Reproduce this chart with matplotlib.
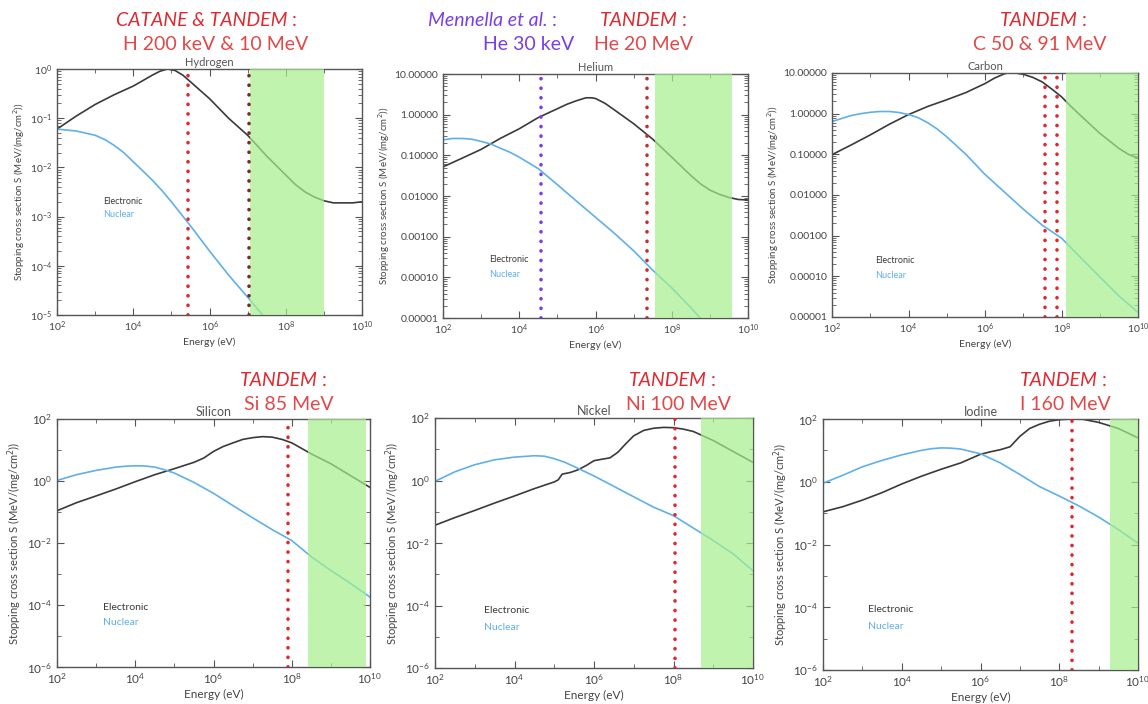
import numpy as np
import matplotlib
matplotlib.use("Agg")
import matplotlib.pyplot as plt
from matplotlib.ticker import LogLocator, FuncFormatter, NullFormatter, LogFormatterMathtext

plt.rcParams.update({
    'font.family': ['Lato', 'DejaVu Sans'],
    'mathtext.fontset': 'dejavusans',
})

# ---------------------------------------------------------------------------
# Data (log10 of energy in eV, stopping in MeV/(mg/cm2))
# ---------------------------------------------------------------------------
H_LOGE = [2.0, 2.5, 3.0, 3.5, 4.0, 4.25, 4.5, 4.7, 4.9, 5.1, 5.3, 5.5, 5.75, 6.0, 6.5, 7.0,
          7.5, 8.0, 8.25, 8.5, 8.75, 9.0, 9.25, 9.5, 9.75, 10.0]
H_ELEC = [0.06, 0.11, 0.19, 0.30, 0.45, 0.58, 0.75, 0.9, 1.0, 0.93, 0.75, 0.55, 0.37, 0.25, 0.10, 0.045,
          0.017, 0.007, 0.0045, 0.0032, 0.0025, 0.0021, 0.0019, 0.0019, 0.0019, 0.002]
H_NUC_LOGE = [2.0, 2.5, 3.0, 3.25, 3.5, 3.75, 4.0, 4.25, 4.5, 4.75, 5.0, 5.5, 6.0, 6.5, 7.0, 7.5, 8.0]
H_NUC = [0.06, 0.055, 0.045, 0.037, 0.028, 0.02, 0.013, 0.0085, 0.0055, 0.0034, 0.002, 0.00065,
         0.0002, 6.5e-5, 2.3e-5, 8e-6, 3e-6]

HE_LOGE = [2.0, 2.5, 3.0, 3.5, 4.0, 4.5, 5.0, 5.25, 5.5, 5.75, 5.9, 6.0, 6.25, 6.5, 7.0, 7.5,
           8.0, 8.5, 8.75, 9.0, 9.25, 9.5, 9.75, 10.0]
HE_ELEC = [0.052, 0.085, 0.14, 0.26, 0.45, 0.85, 1.4, 1.8, 2.2, 2.6, 2.6, 2.5, 1.9, 1.3, 0.6, 0.25,
           0.09, 0.032, 0.02, 0.014, 0.011, 0.0092, 0.0082, 0.008]
HE_NUC_LOGE = [2.0, 2.25, 2.5, 2.75, 3.0, 3.25, 3.5, 3.75, 4.0, 4.5, 5.0, 5.5, 6.0, 6.5, 7.0,
               7.5, 8.0, 8.5, 9.0]
HE_NUC = [0.24, 0.26, 0.26, 0.25, 0.22, 0.19, 0.15, 0.12, 0.09, 0.047, 0.019, 0.0075, 0.003, 0.0012,
          4.5e-4, 1.5e-4, 5.5e-5, 1.8e-5, 5.5e-6]

C_LOGE = [2.0, 2.5, 3.0, 3.5, 4.0, 4.5, 5.0, 5.5, 6.0, 6.25, 6.5, 6.6, 6.8, 7.0, 7.25, 7.5, 7.75,
          8.0, 8.25, 8.5, 9.0, 9.5, 9.75, 10.0]
C_ELEC = [0.098, 0.17, 0.30, 0.55, 0.95, 1.5, 2.2, 3.3, 5.5, 7.5, 9.5, 10.1, 10.0, 9.3, 7.8, 6.0, 4.0,
          2.6, 1.5, 0.9, 0.33, 0.14, 0.1, 0.08]
C_NUC_LOGE = [2.0, 2.5, 2.75, 3.0, 3.25, 3.5, 3.75, 4.0, 4.25, 4.5, 4.75, 5.0, 5.5, 6.0, 6.5, 7.0,
              7.5, 8.0, 8.5, 9.0, 9.5, 10.0]
C_NUC = [0.64, 0.9, 1.0, 1.08, 1.13, 1.13, 1.07, 0.95, 0.8, 0.6, 0.42, 0.27, 0.1, 0.032, 0.012, 0.0045,
         0.0018, 8.7e-4, 2.9e-4, 9.7e-5, 3.3e-5, 1.3e-5]

SI_LOGE = [2.0, 2.5, 3.0, 3.5, 4.0, 4.5, 5.0, 5.5, 5.75, 6.0, 6.25, 6.5, 6.75, 7.0, 7.25, 7.5,
           7.75, 8.0, 8.5, 9.0, 9.5, 10.0]
SI_ELEC = [0.11, 0.2, 0.33, 0.55, 0.95, 1.6, 2.5, 4.0, 5.5, 9.0, 13, 17, 22, 25, 27, 26,
           22, 17, 7.5, 3.6, 1.5, 0.62]
SI_NUC_LOGE = [2.0, 2.5, 3.0, 3.5, 3.75, 4.0, 4.25, 4.5, 4.75, 5.0, 5.5, 6.0, 6.5, 7.0, 7.5, 8.0,
               8.5, 9.0, 9.5, 10.0]
SI_NUC = [1.04, 1.6, 2.2, 2.8, 3.0, 3.1, 3.05, 2.8, 2.3, 1.8, 0.9, 0.4, 0.16, 0.065, 0.027, 0.012,
          0.0036, 0.0013, 5e-4, 1.8e-4]

NI_LOGE = [2.0, 2.5, 3.0, 3.5, 4.0, 4.5, 5.0, 5.1, 5.2, 5.4, 5.6, 5.8, 6.0, 6.2, 6.4, 6.6, 6.8,
           7.0, 7.25, 7.5, 7.75, 8.0, 8.25, 8.5, 9.0, 9.5, 10.0]
NI_ELEC = [0.037, 0.065, 0.11, 0.19, 0.32, 0.55, 0.9, 1.05, 1.6, 1.8, 2.2, 3.0, 4.3, 4.8, 5.3, 8, 15,
           27, 40, 47, 50, 49, 44, 37, 19, 8.5, 3.8]
NI_NUC_LOGE = [2.0, 2.5, 3.0, 3.5, 4.0, 4.5, 4.75, 5.0, 5.25, 5.5, 6.0, 6.5, 7.0, 7.5, 8.0, 8.5,
               9.0, 9.5, 10.0]
NI_NUC = [0.94, 1.9, 3.2, 4.6, 5.6, 6.2, 6.0, 5.0, 3.9, 2.8, 1.4, 0.65, 0.3, 0.14, 0.075, 0.03,
          0.012, 4.5e-3, 1.3e-3]

I_LOGE = [2.0, 2.5, 3.0, 3.5, 4.0, 4.5, 5.0, 5.5, 6.0, 6.25, 6.5, 6.75, 7.0, 7.25, 7.5, 7.75,
          8.0, 8.3, 8.6, 9.0, 9.5, 10.0]
I_ELEC = [0.11, 0.16, 0.26, 0.45, 0.85, 1.5, 2.5, 4.0, 7.5, 9.0, 10.5, 13, 28, 50, 68, 85,
          95, 100, 98, 78, 50, 25]
I_NUC_LOGE = [2.0, 2.5, 3.0, 3.5, 4.0, 4.5, 4.75, 5.0, 5.25, 5.5, 6.0, 6.5, 7.0, 7.5, 8.0, 8.5,
              9.0, 9.5, 10.0]
I_NUC = [0.9, 1.6, 3.0, 4.8, 7.2, 10, 11.3, 12, 11.8, 11, 7.8, 4.0, 1.7, 0.7, 0.35, 0.17,
         0.075, 0.03, 0.011]

# beam energies (eV) and irradiation (green) windows
H_BEAMS = [2.8e5, 1.1e7]
HE_BEAMS = [3.7e4, 2.2e7]
C_BEAMS = [3.7e7, 7.8e7]
SI_BEAMS = [8.0e7]
NI_BEAMS = [1.07e8]
I_BEAMS = [2.1e8]

H_BAND = [1.12e7, 1.0e9]
HE_BAND = [3.6e7, 3.7e9]
C_BAND = [1.3e8, 1.0e10]
SI_BAND = [2.6e8, 8.0e9]
NI_BAND = [4.8e8, 1.0e10]
I_BAND = [1.9e9, 1.0e10]

NAMES = ['Hydrogen', 'Helium', 'Carbon', 'Silicon', 'Nickel', 'Iodine']

BLACK = '#3a3a3a'
BLUE = '#5fb0ea'
RED = '#e0282e'
RED2 = '#e24848'
PURPLE = '#7a3ee6'
GREEN = '#a6f08c'
GRAY = '#555555'

W, H = 1148, 704


def fx(px):
    return px / W


def fy(py):
    return 1 - py / H


fig = plt.figure(figsize=(W / 100, H / 100), dpi=100)

# axes boxes in pixel coords: x0, x1, y_top, y_bottom
boxes = [
    (57, 362, 69, 315),
    (443, 748, 74, 318),
    (832, 1138, 73, 317),
    (57, 370, 419, 667),
    (435, 753, 418, 668),
    (823, 1138, 419, 670),
]

panels = [
    dict(loge=H_LOGE, elec=H_ELEC, nloge=H_NUC_LOGE, nuc=H_NUC, beams=H_BEAMS, band=H_BAND,
         ylim=(1e-5, 1), fixed=False, step=1, leg=(0.15, 0.46, 0.41), colors=[RED, '#7a2a22'], fs=7.5),
    dict(loge=HE_LOGE, elec=HE_ELEC, nloge=HE_NUC_LOGE, nuc=HE_NUC, beams=HE_BEAMS, band=HE_BAND,
         ylim=(1e-5, 10), fixed=True, step=1, leg=(0.15, 0.24, 0.18), colors=[PURPLE, '#c03030'], fs=7.5),
    dict(loge=C_LOGE, elec=C_ELEC, nloge=C_NUC_LOGE, nuc=C_NUC, beams=C_BEAMS, band=C_BAND,
         ylim=(1e-5, 10), fixed=True, step=1, leg=(0.14, 0.23, 0.17), colors=[RED, RED], fs=7.5),
    dict(loge=SI_LOGE, elec=SI_ELEC, nloge=SI_NUC_LOGE, nuc=SI_NUC, beams=SI_BEAMS, band=SI_BAND,
         ylim=(1e-6, 1e2), fixed=False, step=2, leg=(0.147, 0.24, 0.18), colors=[RED], fs=8.5),
    dict(loge=NI_LOGE, elec=NI_ELEC, nloge=NI_NUC_LOGE, nuc=NI_NUC, beams=NI_BEAMS, band=NI_BAND,
         ylim=(1e-6, 1e2), fixed=False, step=2, leg=(0.154, 0.23, 0.16), colors=[RED], fs=8.5),
    dict(loge=I_LOGE, elec=I_ELEC, nloge=I_NUC_LOGE, nuc=I_NUC, beams=I_BEAMS, band=I_BAND,
         ylim=(1e-6, 1e2), fixed=False, step=2, leg=(0.143, 0.24, 0.175), colors=[RED], fs=8.5),
]

for name, box, p in zip(NAMES, boxes, panels):
    x0, x1, yt, yb = box
    ax = fig.add_axes([fx(x0), fy(yb), fx(x1) - fx(x0), (yb - yt) / H])
    ax.plot(10 ** np.array(p['loge']), p['elec'], color=BLACK, lw=1.2, zorder=2)
    ax.plot(10 ** np.array(p['nloge']), p['nuc'], color=BLUE, lw=1.2, zorder=2)
    ax.axvspan(p['band'][0], p['band'][1], color=GREEN, alpha=0.7, lw=0, zorder=3)
    for b, c in zip(p['beams'], p['colors']):
        ax.axvline(b, color=c, lw=2.6, ls=(0, (0.05, 2.6)), dash_capstyle='round', zorder=4)

    ax.set_xscale('log')
    ax.set_yscale('log')
    ax.set_xlim(1e2, 1e10)
    ax.set_ylim(*p['ylim'])

    ax.xaxis.set_major_locator(LogLocator(base=100.0))
    ax.xaxis.set_minor_locator(LogLocator(base=10.0, subs=(1.0,), numticks=20))
    ax.xaxis.set_minor_formatter(NullFormatter())
    ax.xaxis.set_major_formatter(LogFormatterMathtext())
    if p['step'] == 2:
        ax.yaxis.set_major_locator(LogLocator(base=100.0))
        ax.yaxis.set_minor_locator(LogLocator(base=10.0, subs=(1.0,), numticks=20))
    else:
        ax.yaxis.set_major_locator(LogLocator(base=10.0, subs=(1.0,), numticks=20))
        ax.yaxis.set_minor_locator(LogLocator(base=10.0, subs=np.arange(2, 10), numticks=20))
    ax.yaxis.set_minor_formatter(NullFormatter())
    if p['fixed']:
        ax.yaxis.set_major_formatter(FuncFormatter(lambda v, pos: f'{v:.5f}'))
    else:
        ax.yaxis.set_major_formatter(LogFormatterMathtext())

    ax.tick_params(which='both', direction='in', top=True, right=True, colors=GRAY,
                   labelsize=p['fs'], labelcolor='#444444')
    ax.tick_params(which='major', length=5, width=0.8)
    ax.tick_params(which='minor', length=3, width=0.6)
    for s in ax.spines.values():
        s.set_color('#555555')
        s.set_linewidth(1.0)

    ax.set_xlabel('Energy (eV)', fontsize=p['fs'], color='#444444', labelpad=2)
    ax.set_ylabel('Stopping cross section S (MeV/(mg/cm$^2$))', fontsize=p['fs'] - 0.5,
                  color='#444444', labelpad=2)
    ax.set_title(name, fontsize=p['fs'] + 0.5, color='#555555', pad=2)

    lx, ly1, ly2 = p['leg']
    ax.text(lx, ly1, 'Electronic', transform=ax.transAxes, fontsize=p['fs'] - 1,
            color=BLACK, va='center')
    ax.text(lx, ly2, 'Nuclear', transform=ax.transAxes, fontsize=p['fs'] - 1,
            color=BLUE, va='center')

# ---------------------------------------------------------------------------
# Experiment headers
# ---------------------------------------------------------------------------
HEAD = 14


def head(x_right, y, label, color, colon=True):
    fig.text(fx(x_right), fy(y), label, color=color, fontsize=HEAD, style='italic',
             ha='right', va='center')
    if colon:
        fig.text(fx(x_right + 4), fy(y), ':', color=color, fontsize=HEAD, ha='left', va='center')


def sub(xc, y, label, color):
    fig.text(fx(xc), fy(y), label, color=color, fontsize=HEAD, ha='center', va='center')


head(288, 20, 'CATANE & TANDEM', RED)
sub(216, 45, 'H 200 keV & 10 MeV', RED2)

head(548, 20, 'Mennella et al.', PURPLE)
head(678, 20, 'TANDEM', RED)
sub(529, 45, 'He 30 keV', PURPLE)
sub(644, 45, 'He 20 MeV', RED2)

head(1078, 20, 'TANDEM', RED)
sub(1040, 45, 'C 50 & 91 MeV', RED2)

head(318, 380, 'TANDEM', RED)
sub(289, 404, 'Si 85 MeV', RED2)

head(707, 380, 'TANDEM', RED)
sub(679, 404, 'Ni 100 MeV', RED2)

head(1098, 380, 'TANDEM', RED)
sub(1065, 404, 'I 160 MeV', RED2)

fig.savefig('out.png', dpi=100)
